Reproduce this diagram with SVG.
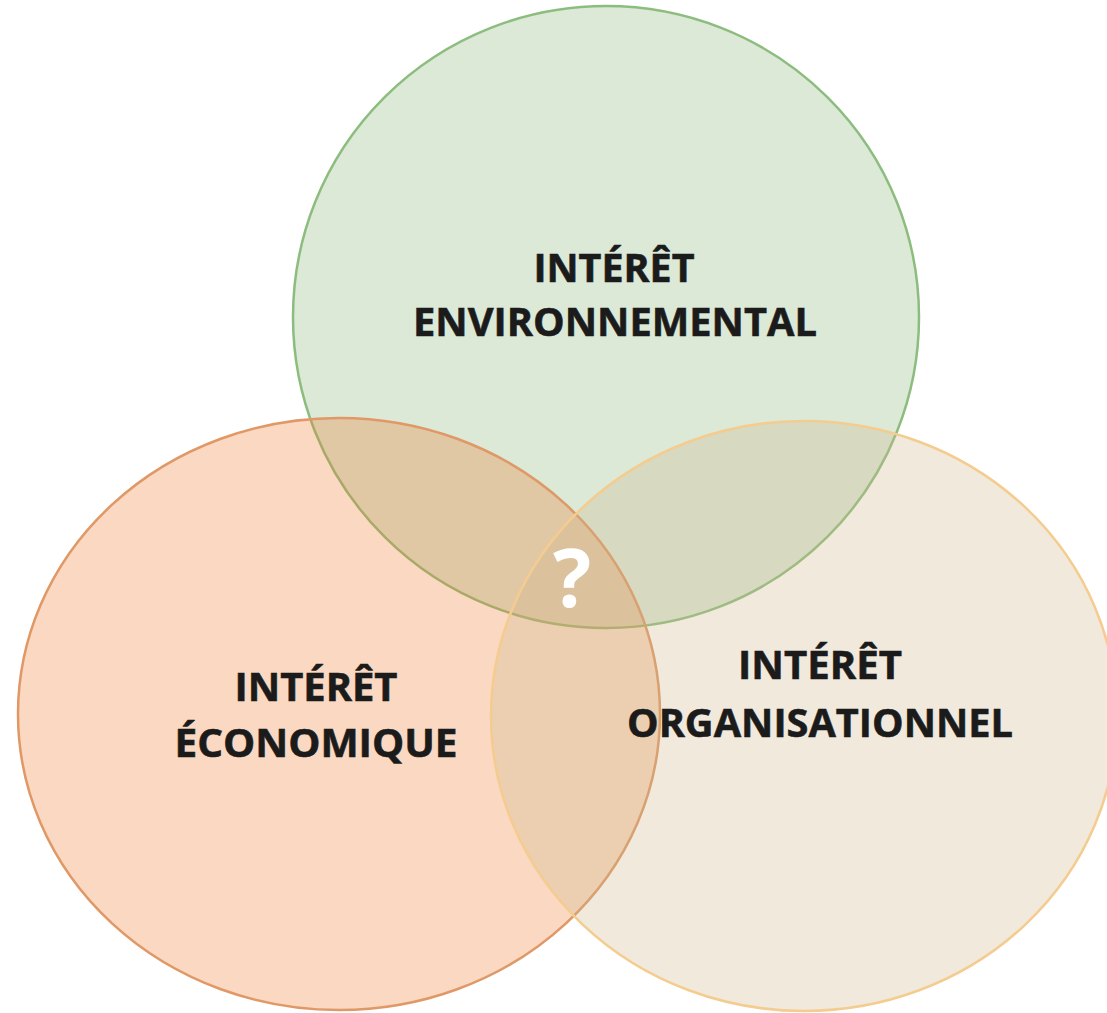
<svg xmlns="http://www.w3.org/2000/svg" width="1107" height="1013" viewBox="0 0 1107 1013">
  <style>
    .lbl { font-family: "Open Sans", "Liberation Sans", sans-serif; font-weight: 700; font-size: 40px; fill: #1b1b1b; stroke: #1b1b1b; stroke-width: 0.6; text-anchor: middle; }
    .q { font-family: "Open Sans", "Liberation Sans", sans-serif; font-weight: 700; font-size: 80px; fill: #ffffff; text-anchor: middle; }
    .sw { stroke-width: 2.5; }
  </style>
  <rect x="0" y="0" width="1107" height="1013" fill="#ffffff"/>
  <g id="node-environnemental">
    <ellipse class="sw" cx="606" cy="317" rx="313" ry="311" fill="#dce9d7" stroke="#8cbd7e"/>
    <text class="lbl" x="614" y="282" textLength="161" lengthAdjust="spacingAndGlyphs">INTÉRÊT</text>
    <text class="lbl" x="615" y="336" textLength="404" lengthAdjust="spacingAndGlyphs">ENVIRONNEMENTAL</text>
  </g>
  <g id="node-economique">
    <ellipse class="sw" cx="339" cy="714" rx="321" ry="296" fill="#ed7d31" fill-opacity="0.3" stroke="#df9866"/>
    <text class="lbl" x="316" y="701" textLength="163" lengthAdjust="spacingAndGlyphs">INTÉRÊT</text>
    <text class="lbl" x="316" y="757" textLength="283" lengthAdjust="spacingAndGlyphs">ÉCONOMIQUE</text>
  </g>
  <g id="node-organisationnel">
    <ellipse class="sw" cx="804" cy="716" rx="313" ry="295" fill="#cdb58c" fill-opacity="0.3" stroke="#f5cc8f"/>
    <text class="lbl" x="820" y="679" textLength="164" lengthAdjust="spacingAndGlyphs">INTÉRÊT</text>
    <text class="lbl" x="820" y="737" textLength="386" lengthAdjust="spacingAndGlyphs">ORGANISATIONNEL</text>
  </g>
  <g id="connectors"/>
  <g id="center-label">
    <text class="q" x="572" y="607">?</text>
  </g>
</svg>
